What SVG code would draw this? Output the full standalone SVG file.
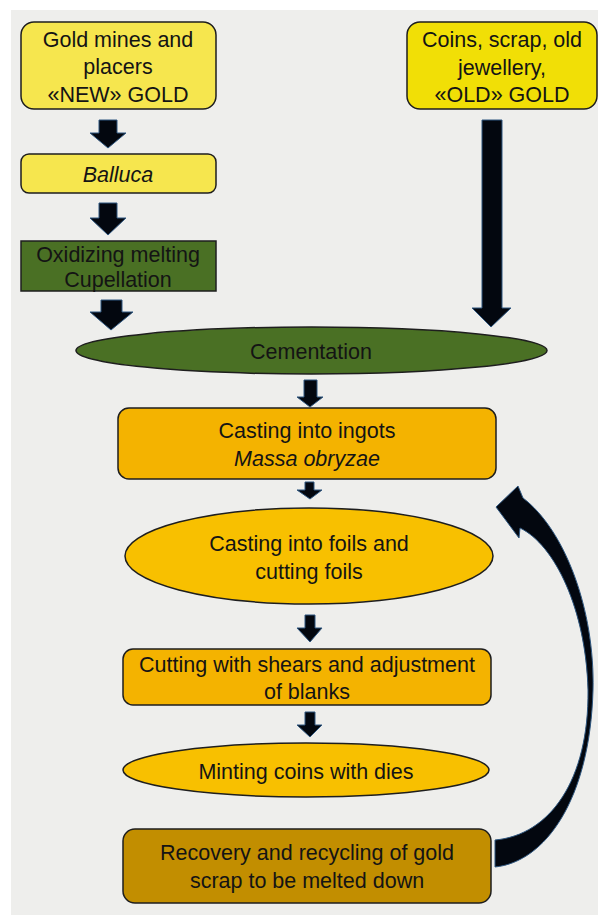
<svg xmlns="http://www.w3.org/2000/svg" width="598" height="915" viewBox="0 0 598 915">
<style>
text{font-family:"Liberation Sans",Arial,sans-serif;font-size:21.5px;fill:#141414;text-anchor:middle}
.it{font-style:italic}
.box{stroke:#1e1e1e;stroke-width:1.5}
.ylw{fill:#f6e64e}
.ylw2{fill:#f1df06}
.grn{fill:#4a7024}
.org{fill:#f4b300}
.gld{fill:#f8c000}
.brn{fill:#c28e00}
.arr{fill:#03070f;stroke:#2f5780;stroke-width:1}
</style>
<rect x="0" y="0" width="598" height="915" fill="#ffffff"/>
<rect x="11" y="10" width="587" height="905" fill="#eeeeec"/>

<g id="connectors">
<polygon class="arr" points="99,120 117,120 117,133 126,133 108,148 90,133 99,133"/>
<polygon class="arr" points="99,203 117,203 117,218 126,218 108,235 90,218 99,218"/>
<polygon class="arr" points="101,300 122,300 122,312 133,312 111,330 90,312 101,312"/>
<polygon class="arr" points="482,120 502,120 502,308 511,308 491,327 472,308 482,308"/>
<polygon class="arr" points="304,380 317,380 317,397 323,397 310,407 297,397 304,397"/>
<polygon class="arr" points="305,482 314,482 314,490 322,490 310,499 297,490 305,490"/>
<polygon class="arr" points="305,615 315,615 315,628 322,628 310,642 297,628 305,628"/>
<polygon class="arr" points="305,712 315,712 315,725 322,725 310,737 297,725 305,725"/>
<path class="arr" d="M495,867 C545,862 590,800 593,690 C595,610 565,530 523,498 L518,486 L496,507 L519,538 L520,528 C555,545 586,610 588,690 C589,780 550,835 495,840 Z"/>
</g>

<g id="new-gold">
<rect class="box ylw" x="21" y="22" width="195" height="87" rx="13"/>
<text x="118" y="47">Gold mines and</text>
<text x="118" y="74">placers</text>
<text x="118" y="102">«NEW» GOLD</text>
</g>

<g id="balluca">
<rect class="box ylw" x="21" y="154" width="195" height="39" rx="8"/>
<text class="it" x="118" y="182">Balluca</text>
</g>

<g id="oxidizing">
<rect class="box grn" x="21" y="241" width="195" height="50"/>
<text x="118" y="262">Oxidizing melting</text>
<text x="118" y="287">Cupellation</text>
</g>

<g id="old-gold">
<rect class="box ylw2" x="407" y="22" width="190" height="87" rx="13"/>
<text x="502" y="47">Coins, scrap, old</text>
<text x="502" y="75">jewellery,</text>
<text x="502" y="102">«OLD» GOLD</text>
</g>

<g id="cementation">
<ellipse class="box grn" cx="311.5" cy="350.5" rx="235.5" ry="23.5"/>
<text x="311" y="359">Cementation</text>
</g>

<g id="ingots">
<rect class="box org" x="118" y="408" width="378" height="71" rx="11"/>
<text x="307" y="438">Casting into ingots</text>
<text class="it" x="307" y="466">Massa obryzae</text>
</g>

<g id="foils">
<ellipse class="box gld" cx="309" cy="556" rx="184" ry="48"/>
<text x="309" y="551">Casting into foils and</text>
<text x="309" y="579">cutting foils</text>
</g>

<g id="shears">
<rect class="box org" x="123" y="649" width="368" height="56" rx="10"/>
<text x="307" y="672">Cutting with shears and adjustment</text>
<text x="307" y="699">of blanks</text>
</g>

<g id="minting">
<ellipse class="box gld" cx="306" cy="770" rx="183" ry="27"/>
<text x="306" y="779">Minting coins with dies</text>
</g>

<g id="recovery">
<rect class="box brn" x="123" y="829" width="368" height="74" rx="12"/>
<text x="307" y="860">Recovery and recycling of gold</text>
<text x="307" y="888">scrap to be melted down</text>
</g>
</svg>
